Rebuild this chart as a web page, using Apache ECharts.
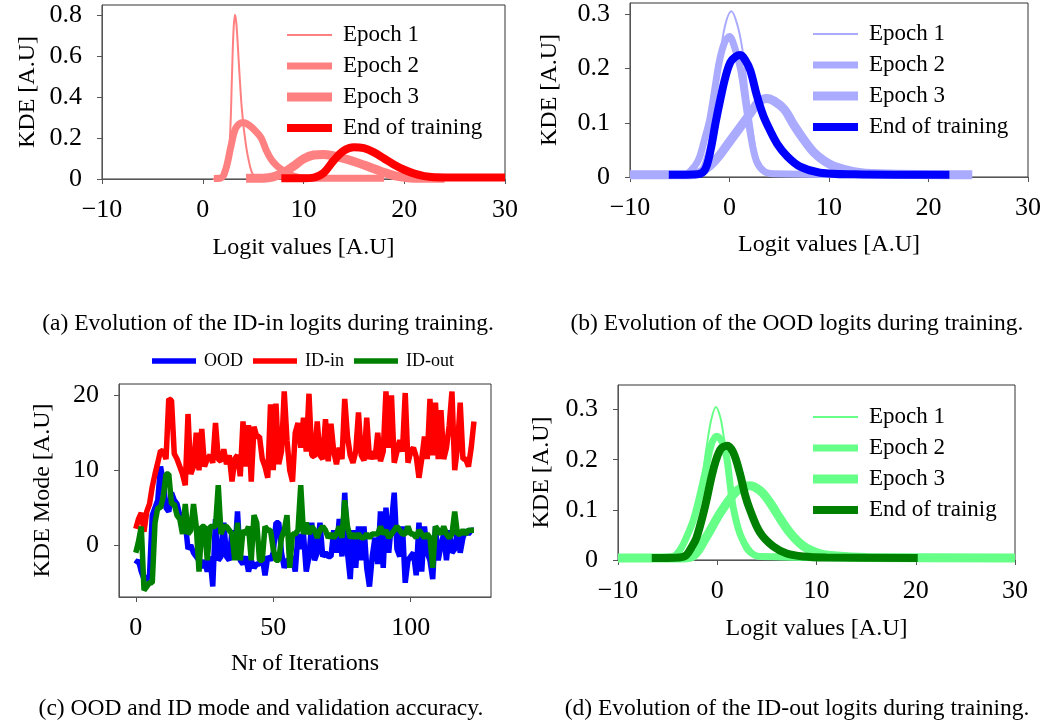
<!DOCTYPE html>
<html>
<head>
<meta charset="utf-8">
<script src="https://cdn.jsdelivr.net/npm/echarts@6/dist/echarts.min.js"></script>
<style>
html,body{margin:0;padding:0;background:#fff;}
#main{width:1050px;height:723px;}
</style>
</head>
<body>
<div id="main"></div>
<script>
// ---------- Panel (a): ID-in logits KDE ----------
const aEpoch1 = [[1.0,0],[2.0,0.002],[2.4,0.03],[2.7,0.2],[2.9,0.5],[3.05,0.72],[3.2,0.8],[3.35,0.75],[3.6,0.55],[3.9,0.33],[4.3,0.16],[4.7,0.06],[5.0,0.02],[5.5,0.004],[6.5,0.002],[8,0.002]];
const aEpoch2 = [[1.1,0.003],[1.8,0.005],[2.3,0.05],[2.8,0.16],[3.3,0.25],[4.0,0.275],[4.6,0.262],[5.2,0.235],[5.8,0.2],[6.3,0.14],[6.8,0.095],[7.4,0.062],[8.0,0.04],[8.6,0.022],[9.3,0.01],[10,0.005],[12,0.004],[18,0.004]];
const aEpoch3 = [[4.3,0.004],[6,0.004],[7,0.01],[8,0.03],[9,0.062],[10,0.098],[11,0.117],[12,0.12],[13,0.112],[14,0.1],[15,0.085],[16,0.068],[17,0.05],[18,0.032],[19,0.017],[20,0.008],[21,0.004],[24,0.004]];
const aEnd    = [[7.8,0.004],[10,0.004],[11,0.007],[12,0.03],[13,0.09],[14,0.138],[15,0.155],[16,0.15],[17,0.13],[18,0.1],[19,0.07],[20,0.045],[21,0.026],[22,0.014],[23,0.009],[25,0.007],[30,0.007]];

// ---------- Panel (b): OOD logits KDE ----------
const bEpoch1 = [[-6,0.004],[-4,0.005],[-3,0.014],[-2.5,0.035],[-2,0.07],[-1.5,0.14],[-1,0.21],[-0.5,0.275],[0.2,0.306],[0.8,0.28],[1.3,0.235],[1.8,0.16],[2.3,0.09],[2.8,0.035],[3.5,0.01],[4.5,0.005],[12,0.004]];
const bEpoch2 = [[-8,0.004],[-4.5,0.005],[-3.5,0.02],[-3,0.037],[-2.5,0.07],[-2,0.105],[-1.5,0.16],[-1,0.215],[-0.5,0.248],[0,0.259],[0.5,0.24],[1.1,0.2],[1.6,0.14],[2.1,0.08],[2.7,0.03],[3.5,0.01],[4.4,0.006],[20,0.004]];
const bEpoch3 = [[-10,0.004],[-4,0.004],[-3,0.008],[-2,0.02],[-1,0.04],[0,0.065],[1,0.09],[2,0.115],[3,0.14],[3.75,0.145],[4.5,0.14],[5.5,0.125],[6.5,0.095],[7.5,0.068],[8.5,0.045],[9.5,0.03],[10.5,0.02],[12.5,0.01],[15,0.006],[24.4,0.004]];
const bEnd    = [[-6.1,0.004],[-3.2,0.005],[-2.45,0.014],[-1.9,0.05],[-1.4,0.1],[-0.9,0.145],[-0.4,0.185],[0.1,0.212],[0.6,0.222],[1.1,0.225],[1.6,0.215],[2.1,0.196],[2.75,0.15],[3.4,0.113],[4.1,0.085],[4.8,0.061],[5.8,0.038],[7.1,0.019],[9.1,0.008],[12.5,0.005],[22.1,0.004]];

// ---------- Panel (c): KDE mode over iterations ----------
const oodMode = [-2.5,-2,-3.5,-4.5,-4.5,-4,4,5,6,10.5,8.5,5,4.5,7,6,5.5,4,2,3,-0.5,
  0,-1,-1.5,-2,-3,-2,-3.5,-1.5,-5.5,3.5,-2,-1.5,3,-1.5,-2,2,-1.5,4.5,-2,-2.5,
  -1.5,-3.5,-2,-3,-2.5,-2.5,-1.5,-4,-1.5,-2,-1,3,3,-1,-3,-2,-2,-1.5,-3.5,1.5,
  -0.5,1.5,-3.5,-1.5,3,-2,-1,3,-1.5,-1,-1.5,-1.5,2,-1,3.5,-1.5,7,-1,-4.5,2,
  -3,2.5,-2,2.5,-3,-5.5,-1.5,1,-2.5,4.5,-3,5,-1,3,7,-0.5,-1.5,2.5,-5,-2,
  -1.5,-1,-4,3,-3.5,2.5,-1,-2,-4.5,2.5,-2,0,1.5,-2,2,-1,-0.5,2,-1,1,
  2,1.5,2,2];
const idInMode = [2.2,3.5,4.3,1.8,4.5,5.5,7.8,9.5,11,12.6,12.5,11.5,19.5,19.3,12.2,11.5,10.5,9.5,8,17.5,
  9.5,10.5,15,10,15.5,10.5,11.5,12,11,16.3,11.5,11.2,12.8,10.8,12,8.5,11.5,12,9.2,16.5,
  10.5,16,8.5,15.8,14.5,14.5,11.5,10.5,9,18.8,10,18.9,10.8,12.5,20.5,14,10,8.5,15,16.3,
  13,17,12.5,20.2,12,11.8,16.5,12,11.5,16.8,11.2,16.2,12.5,10.8,13,11.5,19.5,14.5,12,11,
  12.5,17.7,12,11.3,17,11.5,12.5,11.5,15,11.2,12.5,20.5,13,20,11,12.5,14,12.5,20.3,11,
  12.5,13,11.8,9,11.5,14.5,11.5,19.5,12,19,11.5,18,11.5,13,16,20.5,10,13,19,11.5,
  11.5,10.5,13,16.5];
const idOutMode = [-1,0.5,2.5,-6,-5.5,-5,-5,3,5,5,6.5,9.5,9.5,5.5,5.5,4,3.5,1.5,5.5,1.5,
  2,5.5,2.5,-3.5,2.5,2.5,-2,2.5,2.5,2.5,8,1.5,2.5,2.5,2,1.5,-2,3,-2,2,
  1.5,2.5,-2,4,3,-2,-2,2.5,2,2,-0.5,-2,-2,1,2,4,-3,1.5,1.5,2,
  8,1.5,3,1.5,2.5,2,1,2,2.5,2,1,1.5,1,1.5,2.5,1,6,2.5,1,1.5,
  1,1.5,1,1,1.5,1,1.5,1.5,1.5,2.5,1.5,2,1,1.5,2,2.5,2,1.5,1.5,2.5,
  1.5,1.5,1,2,1.5,1,1.5,1,-3,2.5,2,1.5,2.5,1.5,1,1.5,4.5,1.5,1.5,2,
  1.5,2,2,2];

// ---------- Panel (d): ID-out logits KDE ----------
const dEpoch1 = [[-6,0.004],[-4.6,0.006],[-4.1,0.013],[-3.1,0.045],[-2.1,0.093],[-1.6,0.15],[-1.07,0.226],[-0.6,0.28],[-0.13,0.305],[0.3,0.285],[0.6,0.253],[1.0,0.2],[1.28,0.16],[1.6,0.11],[1.95,0.073],[2.6,0.027],[3.3,0.01],[4.5,0.005],[12,0.004]];
const dEpoch2 = [[-8,0.004],[-4.6,0.006],[-3.76,0.02],[-3.0,0.05],[-2.4,0.08],[-1.8,0.125],[-1.24,0.173],[-0.6,0.23],[-0.07,0.247],[0.5,0.235],[0.94,0.205],[1.3,0.15],[1.6,0.106],[2.28,0.053],[3.3,0.017],[4.3,0.007],[20,0.004]];
const dEpoch3 = [[-10,0.004],[-3.5,0.004],[-2.4,0.008],[-1.07,0.047],[0.27,0.093],[1.6,0.13],[2.5,0.145],[3.3,0.148],[4.0,0.143],[4.6,0.133],[5.3,0.115],[6,0.093],[7.3,0.055],[8.66,0.028],[10.3,0.013],[12,0.008],[15,0.005],[30,0.004]];
const dEnd    = [[-6.6,0.004],[-3.8,0.005],[-3.1,0.01],[-2.6,0.025],[-2.08,0.045],[-1.24,0.106],[-0.4,0.18],[0.3,0.22],[1.0,0.228],[1.6,0.215],[2.28,0.173],[2.8,0.13],[3.3,0.1],[4.3,0.055],[5.64,0.027],[7.0,0.013],[8.66,0.007],[11,0.005],[20.2,0.004]];

const kdeLegendNames = ['Epoch 1','Epoch 2','Epoch 3'];
const endNamesAB = 'End of training';
const endNameD = 'End of trainig';
const modeNames = ['OOD','ID-in','ID-out'];
const captions = [
  '(a) Evolution of the ID-in logits during training.',
  '(b) Evolution of the OOD logits during training.',
  '(c) OOD and ID mode and validation accuracy.',
  '(d) Evolution of the ID-out logits during training.'
];

const FONT = '"Liberation Serif", "Times New Roman", serif';
const TICK = 26;
const W_E1 = 2, W_E2 = 7, W_E3 = 9, W_END = 8, W_MODE = 5.5;
const chart = echarts.init(document.getElementById('main'), null, {renderer: 'canvas'});

const minusFmt = v => String(v).replace('-', '\u2212');
const barIcon = (w, h) => 'path://M0,0L' + w + ',0L' + w + ',' + h + 'L0,' + h + 'Z';

function xAxisCfg(gi, opts) {
  return Object.assign({
    type: 'value', gridIndex: gi,
    nameLocation: 'middle',
    nameTextStyle: {fontFamily: FONT, fontSize: 24, color: '#000'},
    axisLine: {show: true, onZero: false, lineStyle: {color: '#555', width: 1}},
    axisTick: {show: true, inside: false, length: 5, lineStyle: {color: '#555'}},
    axisLabel: {fontFamily: FONT, fontSize: TICK, color: '#000', margin: 18, formatter: minusFmt, showMaxLabel: true},
    splitLine: {show: false}
  }, opts);
}
function yAxisCfg(gi, opts) {
  return Object.assign({
    type: 'value', gridIndex: gi,
    nameLocation: 'middle', nameRotate: 90,
    nameTextStyle: {fontFamily: FONT, fontSize: 24, color: '#000'},
    axisLine: {show: true, onZero: false, lineStyle: {color: '#555', width: 1}},
    axisTick: {show: true, inside: false, length: 5, lineStyle: {color: '#555'}},
    axisLabel: {fontFamily: FONT, fontSize: TICK, color: '#000', margin: 20, formatter: minusFmt, showMaxLabel: false},
    splitLine: {show: false}
  }, opts);
}
function kdeSeries(panel, idx, name, data, color, width) {
  return {
    type: 'line', name: panel + '::' + name, xAxisIndex: idx, yAxisIndex: idx,
    data: data, symbol: 'none', showSymbol: false, smooth: 0.35, clip: true,
    lineStyle: {color: color, width: width}, itemStyle: {color: color},
    emphasis: {disabled: true}, animation: false
  };
}
function kdeLegend(panel, left, top, names) {
  const widths = [W_E1, W_E2, W_E3, W_END];
  return {
    orient: 'vertical', left: left, top: top, padding: 0,
    itemWidth: 45, itemHeight: 14, itemGap: 7,
    data: names.map((n, i) => ({name: panel + '::' + n, icon: barIcon(45, widths[i])})),
    formatter: n => n.split('::')[1],
    textStyle: {fontFamily: FONT, fontSize: 23, color: '#000', lineHeight: 24, padding: [0,0,0,6]},
    selectedMode: false
  };
}

const lightA = '#ff8080', darkA = '#ff0000';
const lightB = '#aaaaff', darkB = '#0000ff';
const lightD = '#66ff88', darkD = '#008000';

const namesAB = kdeLegendNames.concat([endNamesAB]);
const namesD = kdeLegendNames.concat([endNameD]);
const capFont = '23.5px ' + FONT;

const option = {
  backgroundColor: '#fff',
  animation: false,
  grid: [
    {left: 102, top: 5, width: 403, height: 174, show: true, borderColor: '#333', borderWidth: 1, backgroundColor: 'transparent'},
    {left: 630, top: 3, width: 398, height: 174, show: true, borderColor: '#333', borderWidth: 1, backgroundColor: 'transparent'},
    {left: 119, top: 384, width: 372, height: 213, show: true, borderColor: '#333', borderWidth: 1, backgroundColor: 'transparent'},
    {left: 618, top: 385, width: 397, height: 175, show: true, borderColor: '#333', borderWidth: 1, backgroundColor: 'transparent'}
  ],
  xAxis: [
    xAxisCfg(0, {min: -10, max: 30, interval: 10, name: 'Logit values [A.U]', nameGap: 57}),
    xAxisCfg(1, {min: -10, max: 30, interval: 10, name: 'Logit values [A.U]', nameGap: 56}),
    xAxisCfg(2, {min: -6.1, max: 129.2, name: 'Nr of Iterations', nameGap: 55,
      axisTick: {show: true, length: 5, lineStyle: {color: '#555'}, customValues: [0, 50, 100]},
      axisLabel: {fontFamily: FONT, fontSize: TICK, color: '#000', margin: 18, customValues: [0, 50, 100]}}),
    xAxisCfg(3, {min: -10, max: 30, interval: 10, name: 'Logit values [A.U]', nameGap: 57})
  ],
  yAxis: [
    yAxisCfg(0, {min: 0, max: 0.848, interval: 0.2, name: 'KDE [A.U]', nameGap: 62}),
    yAxisCfg(1, {min: 0, max: 0.321, interval: 0.1, name: 'KDE [A.U]', nameGap: 68}),
    yAxisCfg(2, {min: -6.9, max: 21.5, name: 'KDE Mode [A.U]', nameGap: 64,
      axisTick: {show: true, length: 5, lineStyle: {color: '#555'}, customValues: [0, 10, 20]},
      axisLabel: {fontFamily: FONT, fontSize: TICK, color: '#000', margin: 20, customValues: [0, 10, 20]}}),
    yAxisCfg(3, {min: 0, max: 0.349, interval: 0.1, name: 'KDE [A.U]', nameGap: 64})
  ],
  legend: [
    kdeLegend('a', 287, 23, namesAB),
    kdeLegend('b', 813, 22, namesAB),
    {
      orient: 'horizontal', left: 152, top: 352, padding: 0, itemWidth: 44, itemHeight: 12, itemGap: 10,
      data: modeNames.map(n => ({name: 'c::' + n, icon: barIcon(44, W_MODE)})),
      formatter: n => n.split('::')[1],
      textStyle: {fontFamily: FONT, fontSize: 18, color: '#000', padding: [0,0,0,3]},
      selectedMode: false
    },
    kdeLegend('d', 813, 405, namesD)
  ],
  series: [
    kdeSeries('a', 0, 'Epoch 1', aEpoch1, lightA, W_E1),
    kdeSeries('a', 0, 'Epoch 2', aEpoch2, lightA, W_E2),
    kdeSeries('a', 0, 'Epoch 3', aEpoch3, lightA, W_E3),
    kdeSeries('a', 0, endNamesAB, aEnd, darkA, W_END),
    kdeSeries('b', 1, 'Epoch 1', bEpoch1, lightB, W_E1),
    kdeSeries('b', 1, 'Epoch 2', bEpoch2, lightB, W_E2),
    kdeSeries('b', 1, 'Epoch 3', bEpoch3, lightB, W_E3),
    kdeSeries('b', 1, endNamesAB, bEnd, darkB, W_END),
    {type: 'line', name: 'c::OOD', xAxisIndex: 2, yAxisIndex: 2, data: oodMode.map((v, i) => [i, v]),
      symbol: 'none', lineStyle: {color: '#0000ff', width: W_MODE}, itemStyle: {color: '#0000ff'}, emphasis: {disabled: true}},
    {type: 'line', name: 'c::ID-in', xAxisIndex: 2, yAxisIndex: 2, data: idInMode.map((v, i) => [i, v]),
      symbol: 'none', lineStyle: {color: '#ff0000', width: W_MODE}, itemStyle: {color: '#ff0000'}, emphasis: {disabled: true}},
    {type: 'line', name: 'c::ID-out', xAxisIndex: 2, yAxisIndex: 2, data: idOutMode.map((v, i) => [i, v]),
      symbol: 'none', lineStyle: {color: '#008000', width: W_MODE}, itemStyle: {color: '#008000'}, emphasis: {disabled: true}},
    kdeSeries('d', 3, 'Epoch 1', dEpoch1, lightD, W_E1),
    kdeSeries('d', 3, 'Epoch 2', dEpoch2, lightD, W_E2),
    kdeSeries('d', 3, 'Epoch 3', dEpoch3, lightD, W_E3),
    kdeSeries('d', 3, endNameD, dEnd, darkD, W_END)
  ],
  graphic: [
    {type: 'text', x: 268, y: 324, style: {text: captions[0], font: capFont, fill: '#000', align: 'center', verticalAlign: 'middle'}},
    {type: 'text', x: 797, y: 324, style: {text: captions[1], font: capFont, fill: '#000', align: 'center', verticalAlign: 'middle'}},
    {type: 'text', x: 261, y: 709, style: {text: captions[2], font: capFont, fill: '#000', align: 'center', verticalAlign: 'middle'}},
    {type: 'text', x: 797, y: 709, style: {text: captions[3], font: capFont, fill: '#000', align: 'center', verticalAlign: 'middle'}}
  ]
};
chart.setOption(option);
</script>
</body>
</html>
